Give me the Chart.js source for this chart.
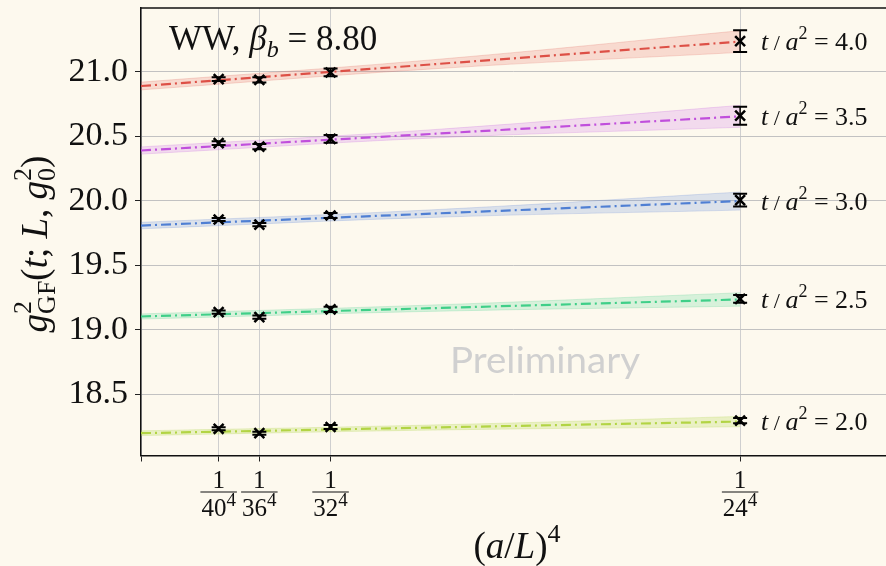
<!DOCTYPE html>
<html>
<head>
<meta charset="utf-8">
<script src="https://cdn.jsdelivr.net/npm/chart.js@4.4.0/dist/chart.umd.min.js"></script>
<style>
  html, body { margin: 0; padding: 0; background: #fdf9ee; overflow: hidden; }
  #wrap { width: 886px; height: 566px; }
</style>
</head>
<body>
<div id="wrap"><canvas id="myChart" width="886" height="566"></canvas></div>
<script>
// Data
const flowTimes = ['4.0', '3.5', '3.0', '2.5', '2.0'];
const sizesL = [40, 36, 32, 24];
const yTicks = [18.5, 19.0, 19.5, 20.0, 20.5, 21.0];

// g^2_GF at each L (rows follow flowTimes)
const gSq = [
  [20.943, 20.938, 20.995, 21.238],
  [20.447, 20.420, 20.480, 20.660],
  [19.855, 19.815, 19.886, 20.005],
  [19.137, 19.098, 19.158, 19.240],
  [18.232, 18.198, 18.246, 18.295]
];
const gErr = [
  [0.015, 0.02, 0.03, 0.085],
  [0.015, 0.02, 0.03, 0.07],
  [0.012, 0.012, 0.02, 0.05],
  [0.012, 0.012, 0.02, 0.03],
  [0.012, 0.012, 0.015, 0.02]
];

// fit line and its band, read at x = 0, 1.5e-6, 1/24^4
const fitX = [0, 1.5e-6, 1 / 24 ** 4];
const fitMid = [
  [20.890, 21.062, 21.235],
  [20.390, 20.522, 20.655],
  [19.808, 19.903, 19.998],
  [19.103, 19.169, 19.235],
  [18.198, 18.243, 18.288]
];
const fitHi = [
  [20.920, 21.098, 21.319],
  [20.418, 20.555, 20.740],
  [19.833, 19.933, 20.068],
  [19.123, 19.194, 19.287],
  [18.216, 18.263, 18.328]
];
const fitLo = [
  [20.860, 21.026, 21.151],
  [20.362, 20.489, 20.570],
  [19.783, 19.873, 19.928],
  [19.083, 19.144, 19.183],
  [18.180, 18.223, 18.248]
];

const lineColors = ['#dd5046', '#c04fdc', '#4f7fd3', '#3fcf88', '#b2d444'];
const bandColors = ['rgba(232,110,100,0.22)', 'rgba(205,110,235,0.22)', 'rgba(100,140,225,0.22)',
  'rgba(80,215,150,0.22)', 'rgba(185,220,90,0.28)'];
const bandEdges = ['rgba(220,80,70,0.25)', 'rgba(190,80,220,0.25)', 'rgba(80,120,210,0.25)',
  'rgba(60,200,130,0.25)', 'rgba(170,210,70,0.3)'];

const SERIF = '"Liberation Serif", "Times New Roman", serif';
const rm = s => `${s}px ${SERIF}`;
const it = s => `italic ${s}px ${SERIF}`;

// Build datasets
const datasets = [];
flowTimes.forEach((t, i) => {
  datasets.push({
    type: 'line', data: fitX.map((x, j) => ({ x: x, y: fitHi[i][j] })),
    borderColor: bandEdges[i], borderWidth: 0.8, backgroundColor: bandColors[i],
    fill: '+1', pointRadius: 0, tension: 0.4, order: 3
  });
  datasets.push({
    type: 'line', data: fitX.map((x, j) => ({ x: x, y: fitLo[i][j] })),
    borderColor: bandEdges[i], borderWidth: 0.8, fill: false, pointRadius: 0, tension: 0.4, order: 3
  });
  datasets.push({
    type: 'line', data: fitX.map((x, j) => ({ x: x, y: fitMid[i][j] })),
    borderColor: lineColors[i], borderWidth: 2.2, borderDash: [10, 4, 2, 4],
    fill: false, pointRadius: 0, order: 2, endLabel: t
  });
  datasets.push({
    type: 'scatter', data: sizesL.map((L, j) => ({ x: 1 / L ** 4, y: gSq[i][j] })),
    pointStyle: 'crossRot', pointRadius: 7, borderColor: '#000', borderWidth: 2.5,
    backgroundColor: '#000', order: 1, errs: gErr[i]
  });
});

// Rich text helpers (sub/superscripts)
function runsWidth(ctx, runs) {
  let w = 0;
  for (let i = 0; i < runs.length; i++) {
    const r = runs[i];
    ctx.font = r.f;
    let a = ctx.measureText(r.t).width;
    if (r.stack && runs[i + 1]) {
      ctx.font = runs[i + 1].f;
      a = Math.max(a, ctx.measureText(runs[i + 1].t).width);
      i++;
    }
    w += a;
  }
  return w;
}
function drawRuns(ctx, runs, x, y) {
  ctx.textAlign = 'left';
  ctx.textBaseline = 'alphabetic';
  for (let i = 0; i < runs.length; i++) {
    const r = runs[i];
    ctx.font = r.f;
    ctx.fillText(r.t, x, y + (r.dy || 0));
    let a = ctx.measureText(r.t).width;
    if (r.stack && runs[i + 1]) {
      const s = runs[i + 1];
      ctx.font = s.f;
      ctx.fillText(s.t, x, y + (s.dy || 0));
      a = Math.max(a, ctx.measureText(s.t).width);
      i++;
    }
    x += a;
  }
}

const errorBars = {
  id: 'errorBars',
  afterDatasetsDraw(chart) {
    const ctx = chart.ctx, xs = chart.scales.x, ys = chart.scales.y;
    ctx.save();
    ctx.strokeStyle = '#000';
    chart.data.datasets.forEach(ds => {
      if (!ds.errs) return;
      ds.data.forEach((p, j) => {
        const px = xs.getPixelForValue(p.x);
        const y1 = ys.getPixelForValue(p.y + ds.errs[j]);
        const y2 = ys.getPixelForValue(p.y - ds.errs[j]);
        ctx.lineWidth = 1.5;
        ctx.beginPath(); ctx.moveTo(px, y1); ctx.lineTo(px, y2); ctx.stroke();
        ctx.lineWidth = 2;
        ctx.beginPath();
        ctx.moveTo(px - 7, y1); ctx.lineTo(px + 7, y1);
        ctx.moveTo(px - 7, y2); ctx.lineTo(px + 7, y2);
        ctx.stroke();
      });
    });
    ctx.restore();
  }
};

const annotations = {
  id: 'annotations',
  afterDraw(chart) {
    const ctx = chart.ctx, xs = chart.scales.x, ys = chart.scales.y, area = chart.chartArea;
    ctx.save();

    // top frame line
    ctx.strokeStyle = '#111';
    ctx.lineWidth = 1.5;
    ctx.beginPath(); ctx.moveTo(area.left, area.top); ctx.lineTo(area.right, area.top); ctx.stroke();

    ctx.fillStyle = '#111';

    // x tick fractions
    xs.ticks.forEach(tk => {
      const k = sizesL.findIndex(L => Math.abs(1 / L ** 4 - tk.value) < 1e-12);
      if (k < 0) return;
      const px = xs.getPixelForValue(tk.value);
      const den = [{ t: String(sizesL[k]), f: rm(25) }, { t: '4', f: rm(19), dy: -10 }];
      const dw = runsWidth(ctx, den);
      ctx.font = rm(25);
      ctx.textAlign = 'center';
      ctx.fillText('1', px, 488);
      ctx.lineWidth = 1.2;
      ctx.beginPath(); ctx.moveTo(px - dw / 2 - 1, 492); ctx.lineTo(px + dw / 2 + 1, 492); ctx.stroke();
      drawRuns(ctx, den, px - dw / 2, 516);
    });

    // x title
    const xt = [{ t: '(', f: rm(37) }, { t: 'a', f: it(37) }, { t: '/', f: rm(37) }, { t: 'L', f: it(37) },
      { t: ')', f: rm(37) }, { t: '4', f: rm(26), dy: -16 }];
    drawRuns(ctx, xt, 517 - runsWidth(ctx, xt) / 2, 558);

    // y title
    const yt = [{ t: 'g', f: it(37) }, { t: '2', f: rm(26), dy: -16, stack: true }, { t: 'GF', f: rm(26), dy: 8 },
      { t: '(', f: rm(37) }, { t: 't', f: it(37) }, { t: '; ', f: rm(37) }, { t: 'L', f: it(37) },
      { t: ', ', f: rm(37) }, { t: 'g', f: it(37) }, { t: '2', f: rm(26), dy: -16, stack: true },
      { t: '0', f: rm(26), dy: 8 }, { t: ')', f: rm(37) }];
    ctx.save();
    ctx.translate(47, 244);
    ctx.rotate(-Math.PI / 2);
    drawRuns(ctx, yt, -runsWidth(ctx, yt) / 2, 0);
    ctx.restore();

    // header label
    drawRuns(ctx, [{ t: 'WW, ', f: rm(35) }, { t: 'β', f: it(35) }, { t: 'b', f: it(24), dy: 7 },
      { t: ' = 8.80', f: rm(35) }], 169, 50);

    // flow time labels at line ends
    chart.data.datasets.forEach(ds => {
      if (!ds.endLabel) return;
      const last = ds.data[ds.data.length - 1];
      const py = ys.getPixelForValue(last.y);
      drawRuns(ctx, [{ t: 't', f: it(26) }, { t: ' / ', f: rm(22) }, { t: 'a', f: it(26) },
        { t: '2', f: rm(18), dy: -11 }, { t: ' = ' + ds.endLabel, f: rm(26) }],
        xs.getPixelForValue(last.x) + 21, py + 8.5);
    });

    // watermark
    ctx.fillStyle = '#d0d0d0';
    ctx.font = '36px Lato, "Open Sans", sans-serif';
    const pw = ctx.measureText('Preliminary').width;
    ctx.translate(450, 373);
    ctx.scale(190 / pw, 1);
    ctx.textAlign = 'left';
    ctx.fillText('Preliminary', 0, 0);

    ctx.restore();
  }
};

const ctx = document.getElementById('myChart');
const myChart = new Chart(ctx, {
  type: 'scatter',
  data: { datasets: datasets },
  options: {
    responsive: false,
    animation: false,
    layout: { autoPadding: false, padding: { top: 8, left: 0, right: 0, bottom: 0 } },
    plugins: { legend: { display: false }, tooltip: { enabled: false } },
    scales: {
      x: {
        type: 'linear', min: 0, max: 3.748e-6,
        afterBuildTicks: s => { s.ticks = [0].concat(sizesL.map(L => 1 / L ** 4)).map(v => ({ value: v })); },
        afterFit: s => { s.height = 110.5; s.paddingLeft = 0; s.paddingRight = 0; },
        grid: { color: '#cfcfcf', lineWidth: 1, tickLength: 6, tickColor: '#222' },
        border: { color: '#111', width: 1.5 },
        ticks: { display: false }
      },
      y: {
        min: 18.025, max: 21.495,
        afterBuildTicks: s => { s.ticks = yTicks.map(v => ({ value: v })); },
        afterFit: s => { s.width = 141; s.paddingTop = 0; s.paddingBottom = 0; },
        grid: { color: '#c2c2c2', lineWidth: 1, tickLength: 6, tickColor: '#222' },
        border: { color: '#111', width: 1.5 },
        ticks: {
          color: '#111', padding: 7,
          font: { family: '"Liberation Serif", "Times New Roman", serif', size: 34 },
          callback: v => v.toFixed(1)
        }
      }
    }
  },
  plugins: [errorBars, annotations]
});
</script>
</body>
</html>
